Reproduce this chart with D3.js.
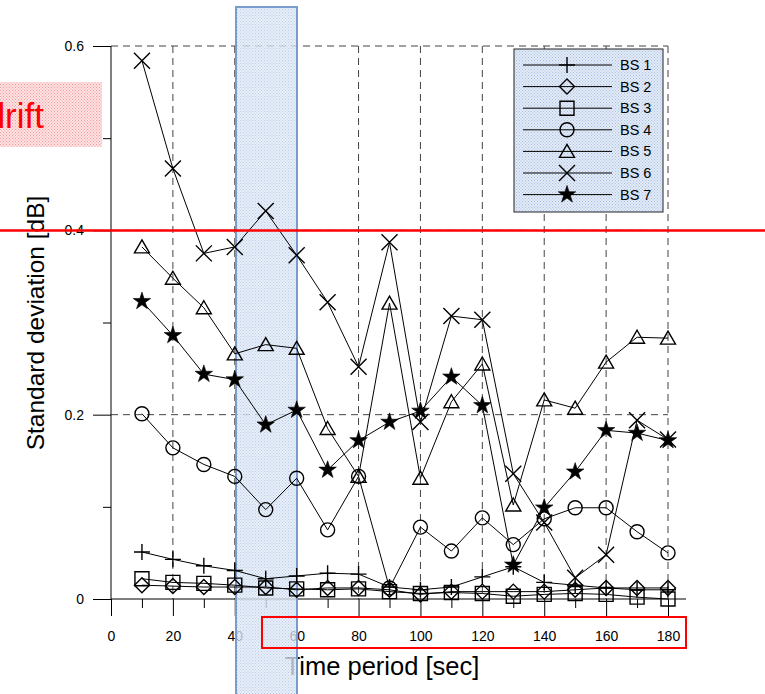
<!DOCTYPE html>
<html lang="en">
  <head>
    <meta charset="utf-8">
    <title>Standard deviation per time period</title>
    <script src="https://cdnjs.cloudflare.com/ajax/libs/d3/7.8.5/d3.min.js"></script>
    <style>
      body { margin: 0; background: #fff; }
      svg { display: block; font-family: "Liberation Sans", Arial, sans-serif; }
      .tick text { font-size: 14px; fill: #000; }
      .legend-label { font-size: 14.5px; }
    </style>
  </head>
  <body>
    <div id="graph"></div>
    <script>
    // time periods [sec]
    const periods = [10, 20, 30, 40, 50, 60, 70, 80, 90, 100, 110, 120, 130, 140, 150, 160, 170, 180];

    // standard deviation [dB]
    const bs1 = [0.051, 0.043, 0.036, 0.031, 0.022, 0.025, 0.028, 0.027, 0.013, 0.010, 0.013, 0.024, 0.035, 0.018, 0.015, 0.012, 0.010, 0.010];
    const bs2 = [0.015, 0.014, 0.013, 0.013, 0.013, 0.010, 0.012, 0.012, 0.010, 0.005, 0.008, 0.008, 0.008, 0.008, 0.010, 0.012, 0.012, 0.012];
    const bs3 = [0.022, 0.018, 0.017, 0.015, 0.012, 0.011, 0.010, 0.011, 0.008, 0.006, 0.007, 0.006, 0.003, 0.005, 0.006, 0.005, 0.002, 0.000];
    const bs4 = [0.201, 0.164, 0.146, 0.133, 0.097, 0.131, 0.075, 0.133, 0.012, 0.078, 0.052, 0.088, 0.059, 0.087, 0.099, 0.099, 0.073, 0.050];
    const bs5 = [0.382, 0.348, 0.316, 0.266, 0.276, 0.272, 0.185, 0.133, 0.321, 0.131, 0.214, 0.255, 0.102, 0.216, 0.207, 0.257, 0.284, 0.283];
    const bs6 = [0.584, 0.467, 0.375, 0.382, 0.421, 0.373, 0.322, 0.252, 0.387, 0.192, 0.307, 0.303, 0.136, 0.083, 0.023, 0.048, 0.194, 0.173];
    const bs7 = [0.323, 0.286, 0.244, 0.238, 0.189, 0.205, 0.140, 0.172, 0.192, 0.204, 0.241, 0.210, 0.037, 0.099, 0.138, 0.183, 0.180, 0.172];

    const seriesNames = ["BS 1", "BS 2", "BS 3", "BS 4", "BS 5", "BS 6", "BS 7"];
    const seriesValues = [bs1, bs2, bs3, bs4, bs5, bs6, bs7];
    const markerKinds = ["plus", "diamond", "square", "circle", "triangle", "cross", "star"];

    const xMajorTicks = [0, 20, 40, 60, 80, 100, 120, 140, 160, 180];
    const xMinorTicks = [10, 30, 50, 70, 90, 110, 130, 150, 170];
    const yMajorTicks = [0, 0.2, 0.4, 0.6];
    const yMinorTicks = [0.1, 0.3, 0.5];
    const yTickLabels = ["0", "0.2", "0.4", "0.6"];

    const W = 765, H = 694;
    const pLeft = 111, pRight = 668, pTop = 46, pBottom = 599;

    const svg = d3.select("#graph").append("svg")
      .attr("width", W)
      .attr("height", H);

    // dotted fills (light, like a printed screen)
    const defs = svg.append("defs");
    function dots(id, bg, dot) {
      const p = defs.append("pattern").attr("id", id)
        .attr("width", 3).attr("height", 3).attr("patternUnits", "userSpaceOnUse");
      p.append("rect").attr("width", 3).attr("height", 3).attr("fill", bg);
      p.append("rect").attr("width", 1).attr("height", 1).attr("fill", dot);
      p.append("rect").attr("x", 1.5).attr("y", 1.5).attr("width", 1).attr("height", 1).attr("fill", dot);
    }
    dots("blueDots", "#e3ebf6", "#a9c0e2");
    dots("pinkDots", "#fde3e3", "#f29a9a");

    svg.append("rect").attr("width", W).attr("height", H).attr("fill", "#fff");

    const x = d3.scaleLinear().domain([0, 180]).range([pLeft, pRight]);
    const y = d3.scaleLinear().domain([0, 0.6]).range([pBottom, pTop]);

    // dashed grid
    const grid = svg.append("g")
      .attr("stroke", "#444")
      .attr("stroke-width", 1)
      .attr("stroke-dasharray", "7,5");
    grid.selectAll(".vgrid")
      .data(xMajorTicks.slice(1))
      .enter().append("line")
      .attr("x1", d => x(d)).attr("x2", d => x(d))
      .attr("y1", pTop).attr("y2", pBottom);
    grid.selectAll(".hgrid")
      .data(yMajorTicks.slice(1))
      .enter().append("line")
      .attr("x1", pLeft).attr("x2", pRight)
      .attr("y1", d => y(d)).attr("y2", d => y(d));

    // axes
    const xAxis = d3.axisBottom(x).tickValues(xMajorTicks).tickSize(17).tickPadding(15)
      .tickFormat(d3.format("d"));
    const xMinor = d3.axisBottom(x).tickValues(xMinorTicks).tickSize(9).tickFormat("");
    const yAxis = d3.axisLeft(y).tickValues(yMajorTicks).tickSize(18).tickPadding(9)
      .tickFormat((d, i) => yTickLabels[i]);
    const yMinor = d3.axisLeft(y).tickValues(yMinorTicks).tickSize(8).tickFormat("");

    svg.append("g").attr("transform", "translate(0," + pBottom + ")").call(xAxis)
      .call(g => g.select(".domain").remove());
    svg.append("g").attr("transform", "translate(0," + pBottom + ")").call(xMinor)
      .call(g => g.select(".domain").remove());
    svg.append("g").attr("transform", "translate(" + pLeft + ",0)").call(yAxis)
      .call(g => g.select(".domain").remove());
    svg.append("g").attr("transform", "translate(" + pLeft + ",0)").call(yMinor)
      .call(g => g.select(".domain").remove());
    svg.selectAll(".tick line").attr("stroke", "#000");

    svg.append("line")
      .attr("x1", pLeft).attr("x2", pLeft)
      .attr("y1", pTop).attr("y2", pBottom)
      .attr("stroke", "#000");
    svg.append("line")
      .attr("x1", pLeft).attr("x2", 686)
      .attr("y1", pBottom).attr("y2", pBottom)
      .attr("stroke", "#000");

    // axis titles
    svg.append("text")
      .attr("x", 382).attr("y", 675)
      .attr("text-anchor", "middle")
      .style("font-size", "25.5px")
      .text("Time period [sec]");
    svg.append("text")
      .attr("transform", "translate(44,323) rotate(-90)")
      .attr("text-anchor", "middle")
      .style("font-size", "24.5px")
      .text("Standard deviation [dB]");

    // shaded band 40-60 s (half see-through, data stays on top)
    svg.append("rect")
      .attr("x", 236).attr("y", 7).attr("width", 61).attr("height", H)
      .attr("fill", "url(#blueDots)")
      .attr("fill-opacity", 0.8)
      .attr("stroke", "#7a9ccc").attr("stroke-width", 2);

    // markers
    const starPath = d3.symbol().type(d3.symbolStar).size(95)();
    function marker(sel, kind) {
      if (kind === "circle") {
        sel.append("circle").attr("r", 7).attr("fill", "none").attr("stroke", "#000").attr("stroke-width", 1.4);
        return;
      }
      const paths = {
        plus: "M-8,0H8M0,-8V8",
        diamond: "M0,-7.5L7.5,0L0,7.5L-7.5,0Z",
        square: "M-7,-7H7V7H-7Z",
        triangle: "M0,-7L7.5,6H-7.5Z",
        cross: "M-8,-8L8,8M-8,8L8,-8",
        star: starPath
      };
      sel.append("path")
        .attr("d", paths[kind])
        .attr("fill", kind === "star" ? "#000" : "none")
        .attr("stroke", "#000")
        .attr("stroke-width", kind === "star" ? 0.6 : 1.4);
    }

    const line = d3.line().x((d, i) => x(periods[i])).y(d => y(d));

    const plot = svg.append("g");
    seriesValues.forEach((vals, s) => {
      plot.append("path")
        .attr("d", line(vals))
        .attr("fill", "none")
        .attr("stroke", "#000")
        .attr("stroke-width", 1);
    });
    seriesValues.forEach((vals, s) => {
      plot.selectAll(".m" + s)
        .data(vals)
        .enter().append("g")
        .attr("transform", (d, i) => "translate(" + x(periods[i]) + "," + y(d) + ")")
        .each(function () { marker(d3.select(this), markerKinds[s]); });
    });

    // legend
    const lg = svg.append("g");
    lg.append("rect").attr("x", 514).attr("y", 49).attr("width", 149).attr("height", 163)
      .attr("fill", "url(#blueDots)").attr("stroke", "#222").attr("stroke-width", 1);
    seriesNames.forEach((name, i) => {
      const ry = 65 + i * 21.6;
      lg.append("line").attr("x1", 523).attr("x2", 612).attr("y1", ry).attr("y2", ry)
        .attr("stroke", "#000");
      const m = lg.append("g").attr("transform", "translate(567," + ry + ")");
      marker(m, markerKinds[i]);
      lg.append("text").attr("class", "legend-label")
        .attr("x", 620).attr("y", ry + 5)
        .text(name);
    });

    // red marks drawn over the chart
    svg.append("line")
      .attr("x1", 0).attr("x2", W).attr("y1", 230.5).attr("y2", 230.5)
      .attr("stroke", "#ff0000").attr("stroke-width", 2.5);

    svg.append("rect")
      .attr("x", 262).attr("y", 617).attr("width", 424).attr("height", 31)
      .attr("fill", "none").attr("stroke", "#ff0000").attr("stroke-width", 2);

    // "drift" note, cut at the left page edge as in the source
    svg.append("rect")
      .attr("x", 0).attr("y", 82).attr("width", 102).attr("height", 65)
      .attr("fill", "url(#pinkDots)");
    svg.append("text")
      .attr("x", 44).attr("y", 128)
      .attr("text-anchor", "end")
      .attr("fill", "#ff0000")
      .style("font-size", "35px")
      .text("drift");
    </script>
  </body>
</html>
